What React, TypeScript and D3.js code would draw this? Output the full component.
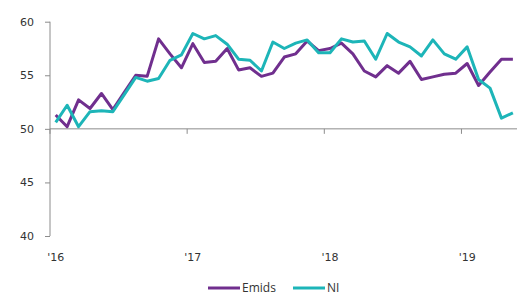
import React, { useEffect, useRef } from 'react';
import * as d3 from 'd3';

// monthly readings, Jan 2016 - May 2019
const months = d3.range(41);
const yearTicks = ["'16", "'17", "'18", "'19"];
const yTicks = [40, 45, 50, 55, 60];

const emids = [
  51.3, 50.2, 52.7, 51.9, 53.3, 51.8, 53.4, 55.0, 54.9, 58.4, 57.0, 55.7,
  57.95, 56.2, 56.3, 57.5, 55.5, 55.7, 54.9, 55.2, 56.7, 57.0, 58.2, 57.3,
  57.5, 58.0, 57.0, 55.4, 54.85, 55.9, 55.2, 56.3, 54.6, 54.85, 55.1, 55.2,
  56.1, 54.05, 55.3, 56.5, 56.5,
];
const ni = [
  50.6, 52.2, 50.2, 51.6, 51.7, 51.6, 53.2, 54.8, 54.45, 54.7, 56.4, 56.9,
  58.9, 58.4, 58.7, 57.9, 56.5, 56.4, 55.4, 58.1, 57.5, 58.0, 58.3, 57.1,
  57.1, 58.4, 58.1, 58.2, 56.5, 58.9, 58.1, 57.65, 56.8, 58.3, 57.0, 56.5,
  57.65, 54.6, 53.8, 51.0, 51.5,
];

const series = [
  { name: 'Emids', values: emids, color: '#702F8E' },
  { name: 'NI', values: ni, color: '#1DB5B8' },
];

const W = 517;
const H = 295;

const App = () => {
  const svgRef = useRef<SVGSVGElement>(null);

  useEffect(() => {
    const svg = d3.select(svgRef.current);
    svg.selectAll('*').remove();

    const x = d3.scaleBand<number>().domain(months).range([50, 518.6]);
    const cx = (i: number) => (x(i) as number) + x.bandwidth() / 2;
    const y = d3.scaleLinear().domain([40, 60]).range([236, 21.7]);

    const axisColor = '#8c8c8c';
    const textColor = '#333';

    // y axis
    const yAxis = svg.append('g').attr('transform', 'translate(50,0)')
      .call(d3.axisLeft(y).tickValues(yTicks).tickSize(5).tickPadding(11).tickFormat(d3.format('d')));
    yAxis.select('.domain').attr('stroke', axisColor).attr('d', `M0,${y(40)}V${y(60)}`);
    yAxis.selectAll('.tick line').attr('stroke', axisColor);
    yAxis.selectAll('.tick text')
      .attr('fill', textColor)
      .style('font-family', 'DejaVu Sans, Verdana, sans-serif')
      .style('font-size', '11px');

    // horizontal axis crosses at 50, year ticks every 12 months
    const base = y(50);
    svg.append('line')
      .attr('x1', 50).attr('x2', 518.6)
      .attr('y1', base).attr('y2', base)
      .attr('stroke', axisColor);
    yearTicks.forEach((label, k) => {
      const tx = x(k * 12) as number;
      svg.append('line')
        .attr('x1', tx).attr('x2', tx)
        .attr('y1', base).attr('y2', base + 5)
        .attr('stroke', axisColor);
      svg.append('text')
        .attr('x', cx(k * 12)).attr('y', 261)
        .attr('text-anchor', 'middle')
        .attr('fill', textColor)
        .style('font-family', 'DejaVu Sans, Verdana, sans-serif')
        .style('font-size', '11px')
        .text(label);
    });

    // lines
    const line = d3.line<number>()
      .x((d, i) => cx(i))
      .y(d => y(d));
    series.forEach(s => {
      svg.append('path')
        .datum(s.values)
        .attr('d', line)
        .attr('fill', 'none')
        .attr('stroke', s.color)
        .attr('stroke-width', 3)
        .attr('stroke-linejoin', 'round');
    });

    // legend
    const legendX = [208, 293];
    series.forEach((s, k) => {
      const g = svg.append('g').attr('transform', `translate(${legendX[k]},288)`);
      g.append('line').attr('x1', 0).attr('x2', 32).attr('stroke', s.color).attr('stroke-width', 3);
      g.append('text')
        .attr('x', 34).attr('y', 4)
        .attr('fill', textColor)
        .style('font-family', 'Open Sans, sans-serif')
        .style('font-size', '12px')
        .text(s.name);
    });
  }, []);

  return (
    <svg ref={svgRef} width={W} height={H} style={{ position: 'absolute', left: 0, top: 0 }} />
  );
};

export default App;
